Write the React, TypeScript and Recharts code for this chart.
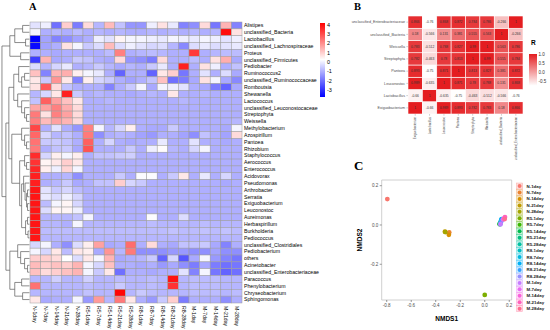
import { ReferenceArea, Scatter, ScatterChart, XAxis, YAxis, Label } from 'recharts';

const FONT = '"Liberation Sans", Arial, sans-serif';

// ---- panel A: heatmap ----
const sampleNames = [
  'N-1day', 'N-7day', 'N-14day', 'N-21day', 'N-28day',
  'R5-1day', 'R5-7day', 'R5-14day', 'R5-21day', 'R5-28day',
  'R8-1day', 'R8-7day', 'R8-14day', 'R8-21day', 'R8-28day',
  'M-1day', 'M-7day', 'M-14day', 'M-21day', 'M-28day',
];

const genera = [
  'Alistipes', 'unclassified_Bacteria', 'Lactobacillus', 'unclassified_Lachnospiraceae',
  'Proteus', 'unclassified_Firmicutes', 'Pediobacter', 'Ruminococcus2',
  'unclassified_Ruminococcaceae', 'Romboutsia', 'Shewanella', 'Lactococcus',
  'unclassified_Leuconostocaceae', 'Streptophyta', 'Weissella', 'Methylobacterium',
  'Azospirillum', 'Pantoea', 'Rhizobium', 'Staphylococcus', 'Aerococcus',
  'Enterococcus', 'Acidovorax', 'Pseudomonas', 'Arthrobacter', 'Serratia',
  'Exiguobacterium', 'Leuconostoc', 'Aureimonas', 'Herbaspirillum', 'Burkholderia',
  'Pediococcus', 'unclassified_Clostridiales', 'Pediobacterium', 'others',
  'Acinetobacter', 'unclassified_Enterobacteriaceae', 'Paracoccus',
  'Phenylobacterium', 'Chryseobacterium', 'Sphingomonas',
];

// one row per genus, columns in sampleNames order
const heatRows: number[][] = [
  [-0.2, 0.0, -2.0, 1.0, -1.8, 0.8, -0.9, 1.3, -0.7, -1.4, -1.4, 0.0, 0.7, -0.1, -1.7, -1.5, 0.8, -1.9, 1.4, -1.7],
  [0.1, -1.0, -0.9, -1.0, -0.8, -1.0, -0.9, -1.0, -0.9, -1.0, -1.0, -0.9, -1.0, -0.9, -1.0, -0.9, -1.0, -0.9, 4.0, 0.7],
  [-3.75, -1.2, -1.7, -1.5, -1.2, -1.0, 0.0, -0.2, 0.4, 0.1, 0.1, 0.0, -0.1, 0.1, 0.0, -0.1, 0.1, 0.0, -0.2, 0.0],
  [-3.6, -1.2, -1.0, 0.7, 0.1, -0.6, -0.3, 1.3, -0.3, 0.0, -0.2, -0.4, -0.3, -0.9, -1.6, -0.3, -0.1, -0.3, -0.2, -0.1],
  [-1.0, -1.0, -1.1, -1.0, -1.0, -1.0, -1.0, -0.8, 2.2, -1.0, -0.9, -0.8, -0.9, -1.0, -1.0, 3.3, -1.0, -0.9, -0.8, -0.8],
  [-2.8, 1.4, -1.1, -1.0, -0.6, -0.7, -1.0, -1.1, 0.8, -1.4, -1.5, -1.8, 0.8, -1.0, -1.0, -0.8, -1.0, 0.7, 1.5, -1.1],
  [-0.3, -0.9, -0.4, -0.1, -1.0, -0.9, -0.6, -0.9, -1.1, -0.9, -1.0, -0.6, -0.1, -1.0, 3.7, -1.0, 0.7, 0.0, -1.0, -0.7],
  [1.2, -1.7, 1.4, 1.5, 0.5, 0.1, -0.1, -1.0, -2.2, -1.0, -1.0, -2.2, 0.6, 1.0, -1.9, -1.0, -0.2, -1.0, -0.3, -1.1],
  [0.6, -0.6, 1.9, 0.6, -1.7, 0.5, -0.4, -0.6, -1.0, -1.2, -1.0, -0.7, 1.2, -2.0, -1.8, -1.1, 0.7, 0.1, -1.1, -1.6],
  [0.7, 2.8, 0.8, -0.7, -1.0, -1.0, -1.0, -1.7, -1.0, -0.6, 0.1, -1.1, 0.1, 0.0, -0.2, -1.0, -1.1, -1.8, -2.2, -1.1],
  [-0.9, -0.4, 0.6, 3.7, -0.6, -1.0, -0.9, -1.0, -1.0, -1.1, -1.0, -0.9, -1.0, 0.6, -1.0, -1.0, -0.9, -1.0, -1.0, -1.0],
  [-0.7, 2.7, 1.7, 1.2, 0.6, -1.0, -1.0, -0.9, -1.0, -1.0, -1.0, -1.0, -1.0, -1.0, -0.9, -1.0, -1.0, -1.0, -1.0, -1.0],
  [1.6, 1.7, 2.2, 1.5, 0.8, -1.0, -1.0, -1.0, -1.0, -1.0, -1.0, -1.0, -1.0, -1.0, -1.0, -1.0, -1.0, -1.0, -1.0, -1.0],
  [2.3, 0.7, 2.2, 1.7, 0.8, -1.0, -1.0, -1.0, -1.0, -1.0, -1.0, -1.0, -1.0, -1.0, -1.0, -1.0, -1.0, -1.0, -1.0, -1.0],
  [2.2, 1.3, 1.7, 1.4, 0.8, -1.0, -1.0, -1.0, -1.0, -1.0, -1.0, -1.0, -1.0, -1.0, -1.0, -1.0, -1.0, -1.0, -1.0, -0.9],
  [3.1, -1.0, -0.2, -1.0, -1.4, 2.2, 0.1, -0.9, -0.4, 0.5, -1.0, -1.1, -1.1, -0.6, -1.0, -1.0, -1.0, -1.0, -1.1, 0.1],
  [2.6, -0.4, -0.9, -0.7, -1.0, 2.3, -1.5, -1.0, -0.9, -1.0, -1.2, -1.35, -1.0, -1.0, -1.2, -1.5, -0.7, -1.0, -1.2, 0.8],
  [2.4, -0.6, -0.6, -0.7, -1.0, 2.7, -1.0, -0.4, -1.0, -1.1, -1.0, -1.0, -0.1, -1.0, -1.0, -0.2, -1.0, -1.0, -1.1, -1.0],
  [2.3, -1.0, -0.7, -0.6, -1.1, 2.9, -1.0, -1.0, -1.0, -0.6, -1.0, 0.0, 0.3, -0.9, -1.0, -0.4, 0.1, -1.0, -1.0, -1.0],
  [3.5, -0.4, 0.5, 0.1, 0.5, -1.0, -0.7, -0.7, -0.6, -0.5, -1.0, -1.0, -1.0, -1.0, -1.0, -1.0, -1.0, -1.0, -1.0, -1.0],
  [3.4, 0.4, 0.6, 1.0, 0.6, -1.0, -1.0, -1.0, -1.0, -1.0, -1.0, -1.0, -1.0, -1.0, -1.0, -1.0, -1.0, -1.0, -1.0, -1.0],
  [3.6, 0.5, 0.0, 0.9, 0.1, -1.0, -1.0, -1.0, -1.0, -1.0, -1.0, -1.0, -1.0, -1.0, -1.0, -1.0, -1.0, -1.0, -1.0, -1.0],
  [3.7, -1.0, -1.0, -0.9, -1.5, -1.0, -1.0, -1.0, -0.6, -1.0, 0.2, 0.2, -1.0, -0.6, 0.6, -1.0, -0.1, -1.0, -0.4, -1.0],
  [3.7, -1.0, -0.9, -0.6, -1.1, -1.0, -0.7, -0.7, 1.0, -0.4, -0.6, -1.0, -1.0, -1.0, -1.0, -1.0, -1.0, -1.0, -1.1, -1.0],
  [3.85, -0.2, -0.6, -0.4, -0.8, -1.0, -1.0, -1.0, -1.0, -1.0, -1.0, -1.0, -1.0, -1.0, -1.0, -1.0, -1.0, -1.0, -1.0, -1.0],
  [3.85, -0.1, -0.3, 0.0, -0.4, -1.0, -1.0, -1.0, -1.0, -1.0, -1.0, -1.0, -1.0, -1.0, -1.0, -1.0, -1.0, -1.0, -1.0, -1.0],
  [3.85, -0.8, 0.1, 0.4, -0.4, -1.0, -1.0, -1.0, -1.0, -1.0, -1.0, -1.0, -1.0, -1.0, -1.0, -1.0, -1.0, -1.0, -1.0, -1.0],
  [3.85, -0.3, 0.4, 0.4, 0.0, -1.0, -1.0, -1.0, -1.0, -1.0, -1.0, -1.0, -1.0, -1.0, -1.0, -1.0, -1.0, -1.0, -1.0, -1.0],
  [3.85, -0.9, -0.9, -0.9, -0.7, 0.1, -1.0, -1.0, -1.0, -1.0, -1.0, 0.2, -1.0, -1.0, -0.3, -1.0, -1.0, -1.0, -1.0, -1.0],
  [3.85, -0.9, -0.9, -1.0, 0.1, -0.9, -0.9, -0.9, -0.9, -0.9, -0.9, -0.8, -0.9, -0.9, -0.9, -0.9, -0.8, -0.9, -0.9, -0.9],
  [3.85, -0.8, -0.8, -0.8, -0.8, -0.8, -0.8, -0.8, -0.8, -0.8, -0.8, -0.8, -0.8, -0.7, -0.8, -0.8, -0.7, -0.8, -0.7, -0.8],
  [3.85, -0.9, -0.9, -0.9, -0.9, -0.9, -0.9, -0.9, -0.9, -0.9, -0.9, -0.9, -0.9, -0.9, -0.9, -0.9, -0.9, -0.9, -0.9, -0.9],
  [-0.4, 0.1, -1.0, -1.5, -0.3, 0.5, 1.7, -1.1, -1.0, 2.5, -1.0, 0.8, -1.0, -1.1, -0.7, -0.7, -0.6, -1.1, -1.7, -1.0],
  [0.1, -0.4, 0.6, -0.8, 0.6, 0.5, -1.1, 1.9, -0.9, 2.3, -1.5, -1.5, -1.5, -1.35, -1.35, -1.5, -1.5, -1.2, -1.5, -1.5],
  [1.0, 1.0, 0.8, 0.25, -0.3, 0.6, 0.1, 1.4, -1.1, -1.0, -0.9, -0.6, -2.2, -0.4, -2.4, -1.1, 0.1, -1.35, -1.7, -1.9],
  [1.3, 1.0, 1.2, 1.0, 1.4, 0.1, -0.4, 1.2, -1.0, -1.0, -1.1, -1.0, -1.35, -1.1, -1.5, -1.8, -1.1, -1.8, -2.0, -1.9],
  [1.2, 0.8, 1.0, 1.2, 1.4, 0.1, -0.6, 0.6, -2.0, -1.0, -1.0, -1.1, -1.0, -1.0, -0.2, -1.7, 0.1, -1.9, -2.2, -2.0],
  [-0.9, -0.9, -0.5, -0.9, -0.9, -0.5, -0.9, -0.9, -0.8, -0.9, -0.9, -0.8, -0.9, 3.9, -0.9, -0.8, -0.8, -0.8, -0.9, -0.9],
  [2.4, -0.9, -0.9, -0.9, -0.9, -0.8, -0.9, -0.9, -0.6, -0.9, -0.9, -0.8, -0.9, 3.4, -0.9, -0.8, -0.8, -0.8, -0.9, -0.9],
  [-0.9, -0.9, -0.9, -0.9, -0.9, -0.7, -0.9, -0.9, 4.1, -0.9, -0.6, -0.8, -0.9, -0.9, -0.9, -0.8, -0.8, -0.8, -0.9, -0.8],
  [0.6, -1.1, -1.0, -1.0, 0.1, -1.35, 1.8, -0.9, 2.3, 0.6, -1.0, -1.35, -0.6, 1.0, -1.8, -1.0, -1.0, -1.0, -1.5, -1.0],
];

// row dendrogram, hclust style: negative = leaf (-1 is row 0), positive = earlier merge (1-based)
const dendroMerges: [number, number, number][] = [
  [-1, -2, 7], [-3, -4, 4], [1, 2, 15], [-5, -6, 9], [3, 4, 20],
  [-8, -9, 5], [6, -10, 8], [-7, 7, 11], [-14, -15, 3], [-13, 9, 5],
  [-12, 10, 8], [-11, 11, 12], [8, 12, 16], [-18, -19, 3], [-17, 14, 5],
  [-16, 15, 8], [-21, -22, 3], [-20, 17, 5], [-25, -26, 2], [-27, -28, 2],
  [19, 20, 3], [-24, 21, 4.5], [-23, 22, 6], [-29, -30, 2], [-31, -32, 1.5],
  [24, 25, 4], [23, 26, 8], [18, 27, 10], [16, 28, 18], [13, 29, 21],
  [-36, -37, 2], [-35, 31, 5], [-34, 32, 9], [-33, 33, 12], [-38, -39, 8],
  [-40, -41, 7], [35, 36, 15], [34, 37, 20], [30, 38, 24], [5, 39, 28],
];

const heatLegendTicks = [4, 3, 2, 1, 0, -1, -2, -3];
const HEAT_MIN = -3.75;
const HEAT_MID = 0.25;
const HEAT_MAX = 4.18;

// ---- panel B: correlation ----
const corrNames = [
  'Exiguobacterium', 'Lactobacillus', 'Leuconostoc', 'Pantoea',
  'Streptophyta', 'Weissella', 'unclassified_Bacteria', 'unclassified_Enterobacteriaceae',
];
const corrMatrix: number[][] = [
  [1, -0.66, 0.989, 0.893, 0.782, 0.783, 0.18, 0.866],
  [-0.66, 1, -0.635, -0.75, -0.463, -0.512, -0.566, -0.76],
  [0.989, -0.635, 1, 0.871, 0.78, 0.788, 0.131, 0.868],
  [0.893, -0.75, 0.871, 1, 0.813, 0.827, 0.381, 0.872],
  [0.782, -0.463, 0.78, 0.813, 1, 0.99, 0.555, 0.784],
  [0.783, -0.512, 0.788, 0.827, 0.99, 1, 0.563, 0.786],
  [0.18, -0.566, 0.131, 0.381, 0.555, 0.563, 1, -0.266],
  [0.866, -0.76, 0.868, 0.872, 0.784, 0.786, -0.266, 1],
];
const corrLegendTicks = [1.0, 0.5, 0.0, -0.5];
const CORR_MIN = -0.76;

// ---- panel C: NMDS ----
const nmds1 = [
  -0.795, -0.29, -0.293, -0.325, -0.322, 0.0, 0.122, 0.123, 0.125, 0.128,
  0.132, 0.135, 0.138, 0.134, 0.127, 0.13, 0.148, 0.158, 0.165, 0.163,
];
const nmds2 = [
  0.132, -0.038, -0.05, -0.034, -0.036, -0.356, 0.004, 0.006, 0.008, 0.012,
  0.02, 0.026, 0.03, 0.018, 0.003, 0.006, 0.028, 0.034, 0.04, 0.03,
];
const sampleColors = [
  '#F8766D', '#EA8331', '#D89000', '#C09B00', '#A3A500', '#7CAE00', '#39B600',
  '#00BB4E', '#00BF7D', '#00C1A3', '#00BFC4', '#00BAE0', '#00B0F6', '#35A2FF',
  '#9590FF', '#C77CFF', '#E76BF3', '#FA62DB', '#FF62BC', '#FF6C91',
];
const nmdsXTicks = [-0.8, -0.6, -0.4, -0.2, 0.0, 0.2];
const nmdsYTicks = [0.2, 0.0, -0.2];

const clamp = (t: number) => Math.max(0, Math.min(1, t));

function heatColor(v: number) {
  if (v <= HEAT_MID) {
    const c = Math.round(255 * clamp((v - HEAT_MIN) / (HEAT_MID - HEAT_MIN)));
    return `rgb(${c},${c},255)`;
  }
  const c = Math.round(255 * (1 - clamp((v - HEAT_MID) / (HEAT_MAX - HEAT_MID))));
  return `rgb(255,${c},${c})`;
}

function corrColor(v: number) {
  const t = clamp((v - CORR_MIN) / (1 - CORR_MIN));
  return `rgb(${Math.round(255 - 27 * t)},${Math.round(255 - 226 * t)},${Math.round(255 - 223 * t)})`;
}

const heatData = heatRows.flatMap((row, r) => row.map((v, c) => ({ x: c, y: r, v })));

function buildDendro() {
  const pos: { h: number; y: number }[] = [];
  const node = (ref: number) => (ref < 0 ? { h: 0, y: -ref - 1 } : pos[ref - 1]);
  return dendroMerges.map(([a, b, h]) => {
    const A = node(a);
    const B = node(b);
    pos.push({ h, y: (A.y + B.y) / 2 });
    return [
      { x: A.h, y: A.y },
      { x: h, y: A.y },
      { x: h, y: B.y },
      { x: B.h, y: B.y },
    ];
  });
}
const dendroSegs = buildDendro();

const corrData = corrMatrix.flatMap((row, r) => row.map((v, c) => ({ x: c, y: r, v })));

// heatmap plot box
const HM_W = 212;
const HM_H = 281;
const CELL_W = HM_W / sampleNames.length;
const CELL_H = HM_H / genera.length;
const CORR_W = 115;
const CORR_H = 98;
const CC_W = CORR_W / corrNames.length;
const CC_H = CORR_H / corrNames.length;

const HeatCell = (p: any) => (
  <rect
    x={p.cx - CELL_W / 2}
    y={p.cy - CELL_H / 2}
    width={CELL_W}
    height={CELL_H}
    fill={heatColor(p.payload.v)}
    stroke="#9c9c9c"
    strokeWidth={0.5}
  />
);

const CorrCell = (p: any) => (
  <g>
    <rect
      x={p.cx - CC_W / 2}
      y={p.cy - CC_H / 2}
      width={CC_W}
      height={CC_H}
      fill={corrColor(p.payload.v)}
      stroke="#fff"
      strokeWidth={0.6}
    />
    <text x={p.cx} y={p.cy} textAnchor="middle" dominantBaseline="central" fontSize={3.3} fill="#333" fontFamily={FONT}>
      {String(p.payload.v)}
    </text>
  </g>
);

const ColTick = (p: any) => (
  <text
    x={p.x}
    y={p.y}
    transform={`rotate(90 ${p.x} ${p.y})`}
    textAnchor="start"
    dominantBaseline="central"
    fontSize={5.2}
    fill="#000"
    fontFamily={FONT}
  >
    {sampleNames[p.payload.value]}
  </text>
);

const CorrColTick = (p: any) => (
  <text
    x={p.x}
    y={p.y}
    transform={`rotate(-90 ${p.x} ${p.y})`}
    textAnchor="end"
    dominantBaseline="central"
    fontSize={3.0}
    fill="#4D4D4D"
    fontFamily={FONT}
  >
    {corrNames[p.payload.value]}
  </text>
);

const noDot = () => <g />;

const panelLabel = (text: string, left: number, top: number, size: number) => (
  <div
    style={{
      position: 'absolute', left, top, fontSize: size, lineHeight: `${size}px`,
      fontWeight: 700, fontFamily: '"Liberation Serif", "Times New Roman", serif',
    }}
  >
    {text}
  </div>
);

export default function App() {
  const idx20 = sampleNames.map((_, i) => i);
  const idx41 = genera.map((_, i) => i);
  const idx8 = corrNames.map((_, i) => i);

  return (
    <div style={{ position: 'absolute', left: 0, top: 0, width: 550, height: 330, background: '#fff', overflow: 'hidden', fontFamily: FONT }}>
      {panelLabel('A', 29, 1.5, 10.5)}
      {panelLabel('B', 354, 1.5, 10.5)}
      {panelLabel('C', 354, 159, 13)}

      {/* dendrogram */}
      <div style={{ position: 'absolute', left: 0, top: 0 }}>
        <ScatterChart width={29.5} height={330} margin={{ top: 22, right: 0, bottom: 27, left: 0 }}>
          <XAxis type="number" dataKey="x" domain={[0, 30]} reversed hide />
          <YAxis type="number" dataKey="y" domain={[-0.5, 40.5]} reversed hide />
          {dendroSegs.map((seg, i) => (
            <Scatter key={i} data={seg} line={{ stroke: '#5a5a5a', strokeWidth: 0.7 }} shape={noDot} isAnimationActive={false} />
          ))}
        </ScatterChart>
      </div>

      {/* heatmap */}
      <div style={{ position: 'absolute', left: 0, top: 0 }}>
        <ScatterChart width={330} height={330} margin={{ top: 22, right: 2, bottom: 2, left: 30 }}>
          <XAxis
            type="number" dataKey="x" domain={[-0.5, 19.5]} ticks={idx20} interval={0}
            tick={ColTick} tickLine={false} axisLine={false} tickSize={0} tickMargin={3} height={25}
          />
          <YAxis
            type="number" dataKey="y" domain={[-0.5, 40.5]} reversed ticks={idx41} interval={0}
            orientation="right" width={86} tickLine={false} axisLine={false} tickSize={0} tickMargin={2}
            tickFormatter={(v: number) => genera[v]}
            tick={{ fontSize: 5.2, fill: '#000', fontFamily: FONT }}
          />
          <Scatter data={heatData} shape={HeatCell} isAnimationActive={false} />
        </ScatterChart>
      </div>

      {/* heatmap colour key */}
      <div style={{ position: 'absolute', left: 300, top: 0 }}>
        <ScatterChart width={50} height={120} margin={{ top: 23, right: 0, bottom: 23, left: 20 }}>
          <defs>
            <linearGradient id="heatGrad" x1="0" y1="0" x2="0" y2="1">
              <stop offset="0" stopColor={heatColor(HEAT_MAX)} />
              <stop offset={(HEAT_MAX - HEAT_MID) / (HEAT_MAX - HEAT_MIN)} stopColor="#ffffff" />
              <stop offset="1" stopColor={heatColor(HEAT_MIN)} />
            </linearGradient>
          </defs>
          <XAxis type="number" dataKey="x" domain={[0, 1]} hide />
          <YAxis
            type="number" dataKey="y" domain={[HEAT_MIN, HEAT_MAX]} ticks={heatLegendTicks} interval={0}
            orientation="right" width={25} tickLine={false} axisLine={false} tickSize={0} tickMargin={2}
            tick={{ fontSize: 5.5, fill: '#000', fontFamily: FONT }}
          />
          <ReferenceArea x1={0} x2={1} y1={HEAT_MIN} y2={HEAT_MAX} fill="url(#heatGrad)" fillOpacity={1} stroke="none" />
          <Scatter data={heatLegendTicks.map((t) => ({ x: 0.5, y: t }))} shape={noDot} isAnimationActive={false} />
        </ScatterChart>
      </div>

      {/* correlation matrix */}
      <div style={{ position: 'absolute', left: 330, top: 0 }}>
        <ScatterChart width={200} height={160} margin={{ top: 16, right: 7, bottom: 6, left: 0 }}>
          <XAxis
            type="number" dataKey="x" domain={[-0.5, 7.5]} ticks={idx8} interval={0}
            tick={CorrColTick} tickLine={{ stroke: '#555', strokeWidth: 0.4 }} axisLine={false}
            tickSize={1.5} tickMargin={1.5} height={40}
          />
          <YAxis
            type="number" dataKey="y" domain={[-0.5, 7.5]} ticks={idx8} interval={0}
            width={78} tickLine={{ stroke: '#555', strokeWidth: 0.4 }} axisLine={false} tickSize={1.5} tickMargin={1.5}
            tickFormatter={(v: number) => corrNames[v]}
            tick={{ fontSize: 3.7, fill: '#4D4D4D', fontFamily: FONT }}
          />
          <Scatter data={corrData} shape={CorrCell} isAnimationActive={false} />
        </ScatterChart>
      </div>

      {/* correlation colour key */}
      <div style={{ position: 'absolute', left: 531, top: 39, fontSize: 6.5, fontWeight: 700, fontFamily: FONT }}>R</div>
      <div style={{ position: 'absolute', left: 515, top: 40 }}>
        <ScatterChart width={35} height={60} margin={{ top: 14, right: 0, bottom: 14.3, left: 14 }}>
          <defs>
            <linearGradient id="corrGrad" x1="0" y1="0" x2="0" y2="1">
              <stop offset="0" stopColor={corrColor(1)} />
              <stop offset="1" stopColor={corrColor(CORR_MIN)} />
            </linearGradient>
          </defs>
          <XAxis type="number" dataKey="x" domain={[0, 1]} hide />
          <YAxis
            type="number" dataKey="y" domain={[CORR_MIN, 1]} ticks={corrLegendTicks} interval={0}
            orientation="right" width={13} tickLine={false} axisLine={false} tickSize={0} tickMargin={1.5}
            tickFormatter={(v: number) => v.toFixed(1)}
            tick={{ fontSize: 4.5, fill: '#333', fontFamily: FONT }}
          />
          <ReferenceArea x1={0} x2={1} y1={CORR_MIN} y2={1} fill="url(#corrGrad)" fillOpacity={1} stroke="none" />
          <Scatter data={corrLegendTicks.map((t) => ({ x: 0.5, y: t }))} shape={noDot} isAnimationActive={false} />
        </ScatterChart>
      </div>

      {/* NMDS */}
      <div style={{ position: 'absolute', left: 340, top: 160 }}>
        <ScatterChart width={180} height={170} margin={{ top: 20, right: 8.3, bottom: 5, left: 0 }}>
          <XAxis
            type="number" dataKey="x" domain={[-0.841, 0.22]} ticks={nmdsXTicks} interval={0} allowDataOverflow
            tickFormatter={(v: number) => v.toFixed(1)} axisLine={false}
            tickLine={{ stroke: '#333', strokeWidth: 0.5 }} tickSize={2} tickMargin={1.5} height={25}
            tick={{ fontSize: 4.5, fill: '#4D4D4D', fontFamily: FONT }}
          >
            <Label value="NMDS1" position="insideBottom" offset={4} style={{ fontSize: 6.5, fontWeight: 700, fill: '#000', fontFamily: FONT }} />
          </XAxis>
          <YAxis
            type="number" dataKey="y" domain={[-0.382, 0.229]} ticks={nmdsYTicks} interval={0} allowDataOverflow
            tickFormatter={(v: number) => v.toFixed(1)} axisLine={false}
            tickLine={{ stroke: '#333', strokeWidth: 0.5 }} tickSize={2} tickMargin={1.5} width={41.7}
            tick={{ fontSize: 4.5, fill: '#4D4D4D', fontFamily: FONT }}
          >
            <Label value="NMDS2" angle={-90} position="insideLeft" offset={20} style={{ fontSize: 6.5, fontWeight: 700, fill: '#000', fontFamily: FONT, textAnchor: 'middle' }} />
          </YAxis>
          <ReferenceArea x1={-0.841} x2={0.22} y1={-0.382} y2={0.229} fill="none" stroke="#c4c4c4" strokeWidth={0.8} />
          {sampleNames.map((name, i) => (
            <Scatter
              key={name}
              name={name}
              data={[{ x: nmds1[i], y: nmds2[i] }]}
              shape={(p: any) => <circle cx={p.cx} cy={p.cy} r={2.4} fill={sampleColors[i]} />}
              isAnimationActive={false}
            />
          ))}
        </ScatterChart>
      </div>

      {/* NMDS legend */}
      <svg style={{ position: 'absolute', left: 514, top: 182 }} width={36} height={132}>
        {sampleNames.map((name, i) => {
          const cy = 4 + i * 6.46;
          return (
            <g key={name}>
              <rect x={2.5} y={cy - 3} width={6.2} height={6} fill={sampleColors[i]} fillOpacity={0.22} stroke={sampleColors[i]} strokeOpacity={0.55} strokeWidth={0.5} />
              <circle cx={5.6} cy={cy} r={2} fill={sampleColors[i]} />
              <text x={12.5} y={cy} dominantBaseline="central" fontSize={4.4} fontWeight={700} fill="#222" fontFamily={FONT}>
                {name}
              </text>
            </g>
          );
        })}
      </svg>
    </div>
  );
}
